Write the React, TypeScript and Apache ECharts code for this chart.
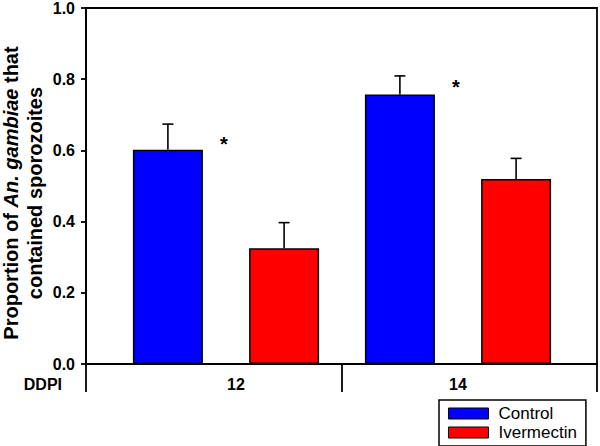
import React, { useEffect, useRef } from "react";
import * as echarts from "echarts";

const categories = ["12", "14"];
const seriesNames = ["Control", "Ivermectin"];
const controlValues = [0.6, 0.755];
const ivermectinValues = [0.324, 0.518];
const controlErrors = [0.072, 0.052];
const ivermectinErrors = [0.072, 0.058];
const significanceY = [0.615, 0.776];
const significanceMarks = ["*", "*"];
const xAxisTitle = "DDPI";

const FONT = "'Liberation Sans', Arial, Helvetica, sans-serif";
const BAR_WIDTH = 70;
const BAR_GAP = 0.66;
const HALF_SPACING = (BAR_WIDTH + BAR_WIDTH * BAR_GAP) / 2;

function errorSeries(name: string, values: number[], errors: number[], offset: number) {
  return {
    type: "custom",
    name: name + " error",
    xAxisIndex: 1,
    yAxisIndex: 1,
    z: 5,
    silent: true,
    data: values.map((v, i) => [i, v, errors[i]]),
    renderItem: (params: any, api: any) => {
      const idx = api.value(0);
      const v = api.value(1);
      const e = api.value(2);
      const base = api.coord([idx, v]);
      const top = api.coord([idx, v + e]);
      const x = base[0] + offset;
      const st = { stroke: "#000", lineWidth: 1.6 };
      return {
        type: "group",
        children: [
          { type: "line", shape: { x1: x, y1: base[1], x2: x, y2: top[1] }, style: st },
          { type: "line", shape: { x1: x - 5.5, y1: top[1], x2: x + 5.5, y2: top[1] }, style: st },
        ],
      };
    },
  };
}

export default function App() {
  const ref = useRef<HTMLDivElement>(null);
  useEffect(() => {
    if (!ref.current) return;
    const chart = echarts.init(ref.current, null, { renderer: "svg" });
    chart.setOption({
      animation: false,
      backgroundColor: "#fff",
      grid: [
        {
          left: 86,
          right: 3,
          top: 7,
          bottom: 82,
          show: true,
          borderColor: "#000",
          borderWidth: 1.8,
          backgroundColor: "transparent",
        },
        { left: 110, right: 26, top: 7, bottom: 82, show: false },
      ],
      legend: {
        data: seriesNames,
        orient: "vertical",
        left: 439,
        top: 400,
        padding: [5, 9, 5, 9],
        itemWidth: 40,
        itemHeight: 11,
        itemGap: 2,
        icon: "rect",
        borderColor: "#000",
        borderWidth: 1.5,
        borderRadius: 0,
        itemStyle: { borderColor: "#000", borderWidth: 1 },
        textStyle: { fontSize: 17, lineHeight: 16, color: "#000", fontFamily: FONT, padding: [0, 0, 0, 5] },
      },
      xAxis: [
        {
          type: "category",
          gridIndex: 0,
          data: categories,
          boundaryGap: true,
          axisLine: { lineStyle: { color: "#000", width: 1.8 } },
          axisTick: { show: true, length: 28, lineStyle: { color: "#000", width: 1.8 } },
          axisLabel: { show: false },
          splitLine: { show: false },
        },
        {
          type: "category",
          gridIndex: 1,
          data: categories,
          axisLine: { show: false },
          axisTick: { show: false },
          axisLabel: {
            color: "#000",
            fontSize: 16,
            fontWeight: "bold",
            fontFamily: FONT,
            margin: 12,
            formatter: (v: string, i: number) => (i === 0 ? `{a|${v}}` : `{b|${v}}`),
            rich: {
              a: { fontSize: 16, fontWeight: "bold", fontFamily: FONT, color: "#000", padding: [0, 0, 0, 20] },
              b: { fontSize: 16, fontWeight: "bold", fontFamily: FONT, color: "#000" },
            },
          },
          splitLine: { show: false },
        },
      ],
      yAxis: [
        {
          type: "value",
          gridIndex: 0,
          min: 0,
          max: 1,
          interval: 0.2,
          axisLine: { show: true, lineStyle: { color: "#000", width: 1.8 } },
          axisTick: { show: true, length: 5, lineStyle: { color: "#000", width: 1.8 } },
          axisLabel: {
            color: "#000",
            fontSize: 16,
            fontWeight: "bold",
            fontFamily: FONT,
            margin: 11,
            formatter: (v: number) => v.toFixed(1),
          },
          splitLine: { show: false },
        },
        { type: "value", gridIndex: 1, min: 0, max: 1, show: false },
      ],
      graphic: [
        {
          type: "text",
          x: 11,
          y: 193,
          rotation: Math.PI / 2,
          style: {
            text: "{n|Proportion of }{i|An. gambiae}{n| that}",
            align: "center",
            verticalAlign: "middle",
            rich: {
              n: { fontSize: 20, fontWeight: "bold", fontFamily: FONT, fill: "#000" },
              i: { fontSize: 20, fontWeight: "bold", fontStyle: "italic", fontFamily: FONT, fill: "#000" },
            },
          },
        },
        {
          type: "text",
          x: 35,
          y: 193,
          rotation: Math.PI / 2,
          style: {
            text: "contained sporozoites",
            align: "center",
            verticalAlign: "middle",
            fontSize: 20,
            fontWeight: "bold",
            fontFamily: FONT,
            fill: "#000",
          },
        },
        {
          type: "text",
          x: 62,
          y: 384,
          style: {
            text: xAxisTitle,
            align: "right",
            verticalAlign: "middle",
            fontSize: 16,
            fontWeight: "bold",
            fontFamily: FONT,
            fill: "#000",
          },
        },
      ],
      series: [
        {
          type: "bar",
          name: seriesNames[0],
          xAxisIndex: 1,
          yAxisIndex: 1,
          data: controlValues,
          barWidth: BAR_WIDTH,
          barGap: BAR_GAP * 100 + "%",
          itemStyle: { color: "#0000FF", borderColor: "#000", borderWidth: 1.5 },
        },
        {
          type: "bar",
          name: seriesNames[1],
          xAxisIndex: 1,
          yAxisIndex: 1,
          data: ivermectinValues,
          barWidth: BAR_WIDTH,
          barGap: BAR_GAP * 100 + "%",
          itemStyle: { color: "#FF0000", borderColor: "#000", borderWidth: 1.5 },
        },
        errorSeries(seriesNames[0], controlValues, controlErrors, -HALF_SPACING),
        errorSeries(seriesNames[1], ivermectinValues, ivermectinErrors, HALF_SPACING),
        {
          type: "custom",
          name: "significance",
          xAxisIndex: 1,
          yAxisIndex: 1,
          silent: true,
          z: 6,
          data: significanceY.map((y, i) => [i, y]),
          renderItem: (params: any, api: any) => {
            const p = api.coord([api.value(0), api.value(1)]);
            return {
              type: "text",
              x: p[0] - HALF_SPACING + BAR_WIDTH / 2 + 21,
              y: p[1],
              style: {
                text: significanceMarks[params.dataIndex],
                fontSize: 20,
                fontWeight: "bold",
                fontFamily: FONT,
                fill: "#000",
                align: "center",
                verticalAlign: "middle",
              },
            };
          },
        },
      ],
    });
    return () => chart.dispose();
  }, []);
  return <div ref={ref} style={{ width: 600, height: 446, position: "absolute", left: 0, top: 0 }} />;
}
